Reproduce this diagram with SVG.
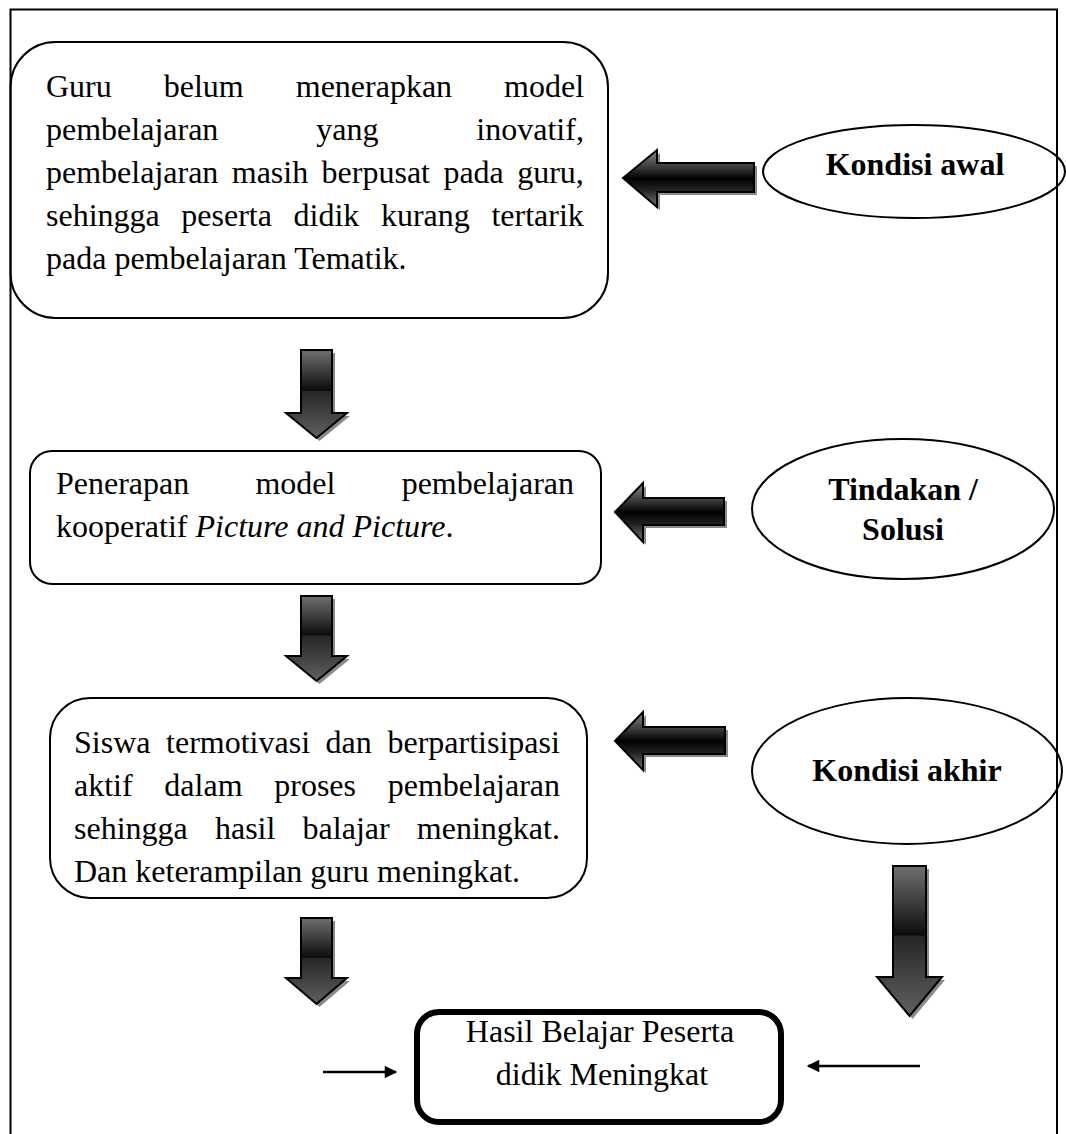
<svg xmlns="http://www.w3.org/2000/svg" width="1066" height="1134" viewBox="0 0 1066 1134">
<defs>
<linearGradient id="gv" x1="0" y1="0" x2="0" y2="1">
<stop offset="0" stop-color="#707070"/>
<stop offset="0.46" stop-color="#0d0d0d"/>
<stop offset="0.47" stop-color="#262626"/>
<stop offset="1" stop-color="#606060"/>
</linearGradient>
<linearGradient id="gh" x1="0" y1="0" x2="0" y2="1">
<stop offset="0" stop-color="#888"/>
<stop offset="0.3" stop-color="#3a3a3a"/>
<stop offset="0.5" stop-color="#000"/>
<stop offset="0.7" stop-color="#222"/>
<stop offset="1" stop-color="#777"/>
</linearGradient>
<marker id="ah" viewBox="0 0 10 10" refX="9" refY="5" markerWidth="6" markerHeight="5" orient="auto" markerUnits="strokeWidth">
<path d="M0,0 L10,5 L0,10 z" fill="#000"/>
</marker>
</defs>
<style>
.box{fill:#fff;stroke:#000;stroke-width:2}
.ell{fill:none;stroke:#000;stroke-width:2}
.t{font-family:"Liberation Serif","Times New Roman",serif;font-size:32px;fill:#000}
.b{font-weight:bold}
.av{fill:url(#gv);stroke:#000;stroke-width:2;stroke-linejoin:miter}
.ahz{fill:url(#gh);stroke:#000;stroke-width:2;stroke-linejoin:miter}
.sh{fill:#8a8a8a}
.ln{stroke:#000;stroke-width:2.5;fill:none}
</style>
<rect x="10.5" y="9.5" width="1046.5" height="1140" fill="#fff" stroke="none"/>

<g id="node1">
<rect class="box" x="10.5" y="42" width="597.5" height="276" rx="45"/>
<text class="t" x="46" y="97" word-spacing="44">Guru belum menerapkan model</text>
<text class="t" x="46" y="140" word-spacing="89.9">pembelajaran yang inovatif,</text>
<text class="t" x="46" y="183" word-spacing="5.4">pembelajaran masih berpusat pada guru,</text>
<text class="t" x="46" y="226" word-spacing="13.6">sehingga peserta didik kurang tertarik</text>
<text class="t" x="46" y="269">pada pembelajaran Tematik.</text>
</g>

<g id="node2">
<rect class="box" x="30" y="451" width="571" height="133" rx="22"/>
<text class="t" x="56" y="494" word-spacing="58.2">Penerapan model pembelajaran</text>
<text class="t" x="56" y="537">kooperatif <tspan font-style="italic">Picture and Picture</tspan>.</text>
</g>

<g id="node3">
<rect class="box" x="50" y="698" width="537" height="200" rx="40"/>
<text class="t" x="74" y="753" word-spacing="7.6">Siswa termotivasi dan berpartisipasi</text>
<text class="t" x="74" y="796" word-spacing="23.7">aktif dalam proses pembelajaran</text>
<text class="t" x="74" y="839" word-spacing="19.2">sehingga hasil balajar meningkat.</text>
<text class="t" x="74" y="882">Dan keterampilan guru meningkat.</text>
</g>

<g id="node4">
<rect x="417" y="1012" width="364" height="110" rx="22" fill="#fff" stroke="#000" stroke-width="6"/>
<text class="t" x="600" y="1042" text-anchor="middle">Hasil Belajar Peserta</text>
<text class="t" x="602" y="1085" text-anchor="middle">didik Meningkat</text>
</g>

<g id="ellipse1">
<ellipse class="ell" cx="914" cy="171.5" rx="151" ry="46.5"/>
<text class="t b" x="915" y="175" text-anchor="middle">Kondisi awal</text>
</g>

<g id="ellipse2">
<ellipse class="ell" cx="903" cy="509" rx="151" ry="70"/>
<text class="t b" x="903" y="500" text-anchor="middle">Tindakan /</text>
<text class="t b" x="903" y="540" text-anchor="middle">Solusi</text>
</g>

<g id="ellipse3">
<ellipse class="ell" cx="907" cy="771" rx="155" ry="73"/>
<text class="t b" x="907" y="781" text-anchor="middle">Kondisi akhir</text>
</g>

<g id="connectors">
<g transform="translate(3,3)">
<polygon class="sh" points="301,350 332,350 332,413 347,413 316.5,438 286,413 301,413"/>
<polygon class="sh" points="301,596 332,596 332,656 347,656 316.5,681 286,656 301,656"/>
<polygon class="sh" points="301,918 332,918 332,978 347,978 316.5,1004 286,978 301,978"/>
<polygon class="sh" points="893,866 926,866 926,977 942,977 909.5,1016 877,977 893,977"/>
<polygon class="sh" points="623,178 657,150 657,163 754,163 754,192 657,192 657,207"/>
<polygon class="sh" points="615,512 643,483 643,498 724,498 724,525 643,525 643,542"/>
<polygon class="sh" points="615,741 643,712 643,727 725,727 725,754 643,754 643,770"/>
</g>
<polygon class="av" points="301,350 332,350 332,413 347,413 316.5,438 286,413 301,413"/>
<polygon class="av" points="301,596 332,596 332,656 347,656 316.5,681 286,656 301,656"/>
<polygon class="av" points="301,918 332,918 332,978 347,978 316.5,1004 286,978 301,978"/>
<polygon class="av" points="893,866 926,866 926,977 942,977 909.5,1016 877,977 893,977"/>
<polygon class="ahz" points="623,178 657,150 657,163 754,163 754,192 657,192 657,207"/>
<polygon class="ahz" points="615,512 643,483 643,498 724,498 724,525 643,525 643,542"/>
<polygon class="ahz" points="615,741 643,712 643,727 725,727 725,754 643,754 643,770"/>
<line class="ln" x1="323" y1="1072" x2="396" y2="1072" marker-end="url(#ah)"/>
<line class="ln" x1="920" y1="1066" x2="808" y2="1066" marker-end="url(#ah)"/>
</g>

<rect x="10.5" y="9.5" width="1046.5" height="1140" fill="none" stroke="#000" stroke-width="2"/>
</svg>
